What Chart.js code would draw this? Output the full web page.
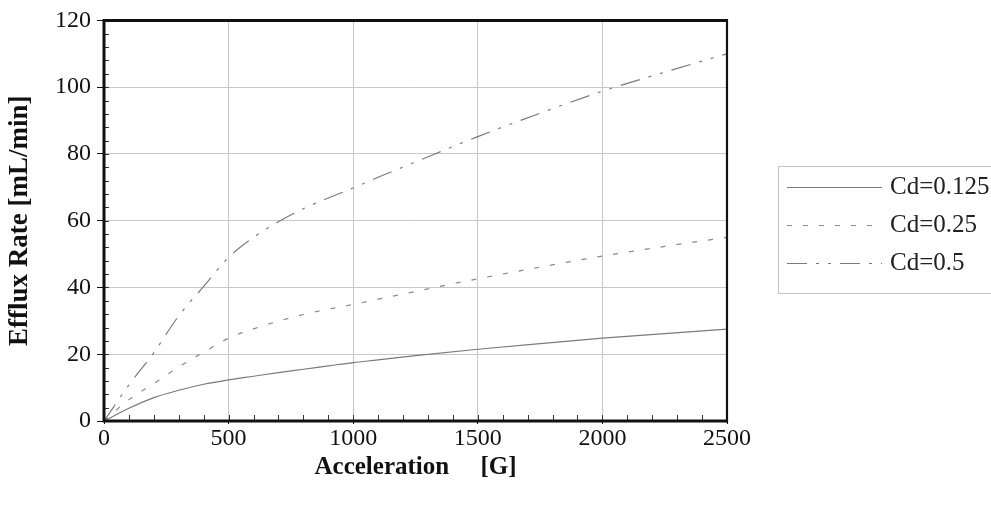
<!DOCTYPE html>
<html><head><meta charset="utf-8">
<style>html,body{margin:0;padding:0;background:#fff;overflow:hidden}#wrap{width:991px;height:506px}</style>
<script src="https://cdn.jsdelivr.net/npm/chart.js@4.4.1/dist/chart.umd.min.js"></script>
</head><body><div id="wrap"><canvas id="c" width="991" height="506"></canvas></div>
<script>
// ---- data ----
const accel  = [0, 100, 200, 300, 400, 500, 600, 700, 800, 900, 1000, 1100, 1250, 1500, 1750, 2000, 2250, 2500];
const cd0125 = [0, 3.8, 7.0, 9.2, 11.0, 12.3, 13.4, 14.5, 15.5, 16.5, 17.5, 18.3, 19.6, 21.5, 23.2, 24.8, 26.2, 27.5];
const cd025  = [0, 6.4, 11.2, 16.2, 20.6, 24.8, 27.6, 29.9, 31.9, 33.5, 34.9, 36.5, 38.8, 42.6, 46.1, 49.4, 52.3, 55.0];
const cd05   = [0, 10.8, 20.5, 31.5, 40.3, 49.0, 55.0, 59.7, 63.6, 66.8, 69.8, 73.0, 77.6, 85.2, 92.2, 98.8, 104.5, 110.0];
const seriesLabels = ['Cd=0.125', 'Cd=0.25', 'Cd=0.5'];
const xTicks = [0, 500, 1000, 1500, 2000, 2500];
const yTicks = [0, 20, 40, 60, 80, 100, 120];
const xMinorStep = 100;
const yMinorStep = 4;

const FONT = "'Liberation Serif','Times New Roman',serif";
Chart.defaults.font.family = FONT;
Chart.defaults.color = '#111';

const toPts = arr => accel.map((a, i) => ({x: a, y: arr[i]}));

const framePlugin = {
  id: 'frameMinor',
  afterDraw(chart) {
    const {ctx, chartArea: a, scales: {x, y}} = chart;
    ctx.save();
    ctx.strokeStyle = '#333';
    ctx.lineWidth = 1;
    ctx.beginPath();
    for (let v = x.min; v <= x.max; v += xMinorStep) {
      const px = Math.round(x.getPixelForValue(v)) + 0.5;
      ctx.moveTo(px, a.bottom); ctx.lineTo(px, a.bottom - 6);
    }
    for (let v = y.min; v <= y.max; v += yMinorStep) {
      const py = Math.round(y.getPixelForValue(v)) + 0.5;
      ctx.moveTo(a.left, py); ctx.lineTo(a.left + 5, py);
    }
    ctx.stroke();
    ctx.strokeStyle = '#111';
    ctx.lineWidth = 3;
    ctx.beginPath();
    ctx.moveTo(a.right - 0.5, a.top); ctx.lineTo(a.left, a.top); ctx.lineTo(a.left, a.bottom); ctx.lineTo(a.right, a.bottom);
    ctx.stroke();
    ctx.lineWidth = 2.2;
    ctx.beginPath();
    ctx.moveTo(a.right, a.top - 1.5); ctx.lineTo(a.right, a.bottom + 1.5);
    ctx.stroke();
    ctx.restore();
  }
};

const legendPlugin = {
  id: 'boxLegend',
  afterDraw(chart) {
    const {ctx} = chart;
    const bx = 778, by = 166, bw = 216, bh = 127;
    ctx.save();
    ctx.strokeStyle = '#c2c2c2';
    ctx.lineWidth = 1;
    ctx.strokeRect(bx + 0.5, by + 0.5, bw, bh);
    ctx.font = "25px " + FONT;
    ctx.textBaseline = 'middle';
    ctx.fillStyle = '#222';
    chart.data.datasets.forEach((ds, i) => {
      const yy = by + 21 + i * 38;
      ctx.strokeStyle = ds.borderColor;
      ctx.lineWidth = ds.borderWidth;
      ctx.setLineDash(ds.borderDash || []);
      ctx.beginPath();
      ctx.moveTo(787, yy + 0.5); ctx.lineTo(882, yy + 0.5);
      ctx.stroke();
      ctx.setLineDash([]);
      ctx.fillText(ds.label, 890, yy);
    });
    ctx.restore();
  }
};

new Chart(document.getElementById('c'), {
  type: 'line',
  data: {
    datasets: [
      {label: seriesLabels[0], data: toPts(cd0125), borderColor: '#7a7a7a', borderWidth: 1.2, borderDash: [], pointRadius: 0, cubicInterpolationMode: 'monotone', fill: false},
      {label: seriesLabels[1], data: toPts(cd025), borderColor: '#8a8a8a', borderWidth: 1.2, borderDash: [5, 11], pointRadius: 0, cubicInterpolationMode: 'monotone', fill: false},
      {label: seriesLabels[2], data: toPts(cd05), borderColor: '#7a7a7a', borderWidth: 1.2, borderDash: [20, 9, 3, 9, 3, 9], pointRadius: 0, cubicInterpolationMode: 'monotone', fill: false}
    ]
  },
  options: {
    responsive: false,
    animation: false,
    devicePixelRatio: 1,
    layout: {padding: {left: 0, right: 264, top: 20, bottom: 0}},
    plugins: {legend: {display: false}, tooltip: {enabled: false}},
    scales: {
      x: {
        type: 'linear', min: 0, max: 2500,
        afterBuildTicks: s => { s.ticks = xTicks.map(v => ({value: v})); },
        afterFit: s => { s.height = 85; },
        grid: {color: '#c8c8c8', lineWidth: 1, drawTicks: true, tickLength: 3, tickColor: '#111'},
        border: {display: false},
        ticks: {font: {size: 24}, padding: 0, maxRotation: 0, color: '#111', callback: v => String(v)},
        title: {display: true, text: 'Acceleration     [G]', font: {size: 25, weight: 'bold'}, color: '#111', padding: {top: 0, bottom: 23}}
      },
      y: {
        type: 'linear', min: 0, max: 120,
        afterBuildTicks: s => { s.ticks = yTicks.map(v => ({value: v})); },
        afterFit: s => { s.width = 104; },
        grid: {color: '#c8c8c8', lineWidth: 1, drawTicks: true, tickLength: 7, tickColor: '#111'},
        border: {display: false},
        ticks: {font: {size: 24}, padding: 6, color: '#111', callback: v => String(v)},
        title: {display: true, text: 'Efflux Rate [mL/min]', font: {size: 27, weight: 'bold'}, color: '#111', padding: {top: 4, bottom: 0}}
      }
    }
  },
  plugins: [framePlugin, legendPlugin]
});
</script></body></html>
